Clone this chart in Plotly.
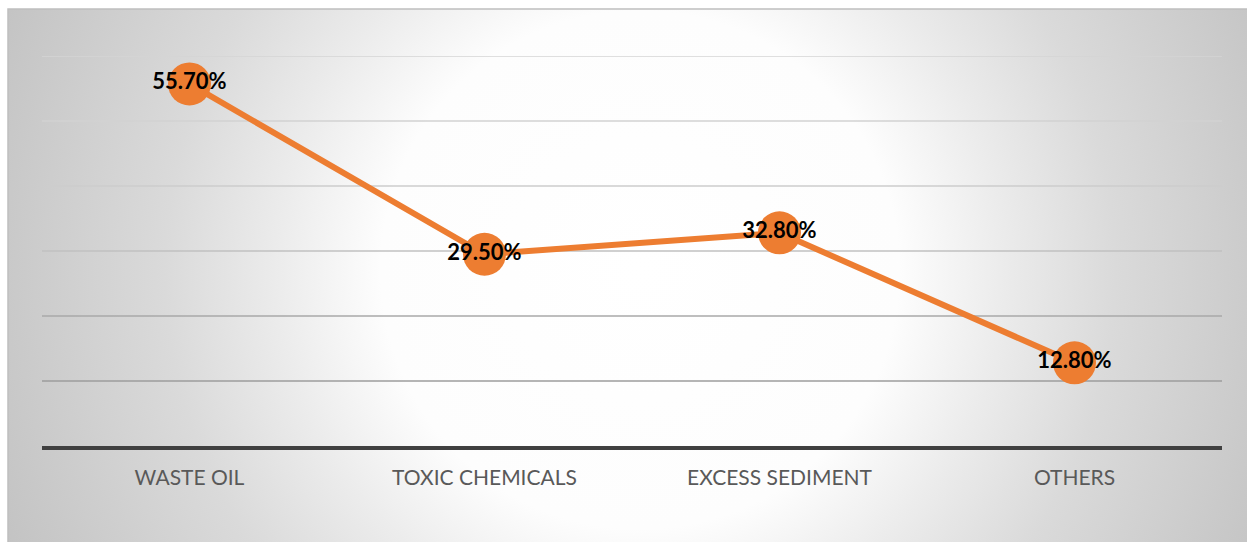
import base64
import plotly.graph_objects as go

# ---- data ----
categories = ["WASTE OIL", "TOXIC CHEMICALS", "EXCESS SEDIMENT", "OTHERS"]
values = [55.7, 29.5, 32.8, 12.8]
grid_values = [10, 20, 30, 40, 50, 60]

# ---- style ----
W, H = 1247, 542
L, R, T, B = 42, 25, 56, 96
PW, PH = W - L - R, H - T - B
ORANGE = "#ED7D31"
grid_colors = ["#9c9c9c", "#a8a8a8", "#c0c0c0", "#cdcdcd", "#d2d2d2", "#d5d5d5"]

# radial gradient background as an SVG image
bx0, by0 = 8, 9
bw, bh = W - bx0, H - by0
svg = f"""<svg xmlns='http://www.w3.org/2000/svg' width='{bw}' height='{bh}' viewBox='0 0 {bw} {bh}' preserveAspectRatio='none'>
<defs><radialGradient id='g' gradientUnits='userSpaceOnUse' cx='{640-bx0}' cy='{270-by0}' r='720'>
<stop offset='0' stop-color='#ffffff'/>
<stop offset='0.36' stop-color='#fdfdfd'/>
<stop offset='0.5' stop-color='#ececec'/>
<stop offset='0.66' stop-color='#dadada'/>
<stop offset='0.88' stop-color='#c9c9c9'/>
<stop offset='1' stop-color='#c0c0c0'/>
</radialGradient></defs>
<rect x='0' y='0' width='{bw}' height='{bh}' fill='url(#g)'/>
</svg>"""
src = "data:image/svg+xml;base64," + base64.b64encode(svg.encode()).decode()

fig = go.Figure()
fig.add_trace(go.Scatter(
    x=categories, y=values,
    mode="lines+markers+text",
    line=dict(color=ORANGE, width=6),
    marker=dict(color=ORANGE, size=43),
    text=[f"{v:.2f}%" for v in values],
    textposition="middle center",
    textfont=dict(family="Lato", size=22, color="#000000", weight="bold"),
    cliponaxis=False,
    hoverinfo="skip",
))

shapes = []
for gv, gc in zip(grid_values, grid_colors):
    shapes.append(dict(type="line", xref="paper", x0=0, x1=1, yref="y", y0=gv, y1=gv,
                       line=dict(color=gc, width=1.3), layer="below"))
# outer chart border (top & left visible)
shapes.append(dict(type="rect", xref="paper", yref="paper",
                   x0=(bx0 - L) / PW, x1=1.2,
                   y0=-0.4, y1=1 + (T - by0) / PH,
                   line=dict(color="#bfbfbf", width=1.5), layer="below"))

fig.update_layout(
    width=W, height=H,
    margin=dict(l=L, r=R, t=T, b=B),
    paper_bgcolor="#ffffff",
    plot_bgcolor="rgba(0,0,0,0)",
    showlegend=False,
    shapes=shapes,
    images=[dict(source=src, xref="paper", yref="paper",
                 x=(bx0 - L) / PW, y=1 + (T - by0) / PH,
                 sizex=bw / PW, sizey=bh / PH,
                 xanchor="left", yanchor="top", sizing="stretch", layer="below")],
    xaxis=dict(
        range=[-0.5, 3.5], showgrid=False, zeroline=False,
        showline=True, linecolor="#404040", linewidth=3.5,
        ticks="outside", ticklen=10, tickcolor="rgba(0,0,0,0)",
        tickfont=dict(family="Lato", size=21, color="#595959"),
    ),
    yaxis=dict(range=[0, 60], showgrid=False, zeroline=False,
               showticklabels=False, showline=False),
)

fig.write_html("out.html")
